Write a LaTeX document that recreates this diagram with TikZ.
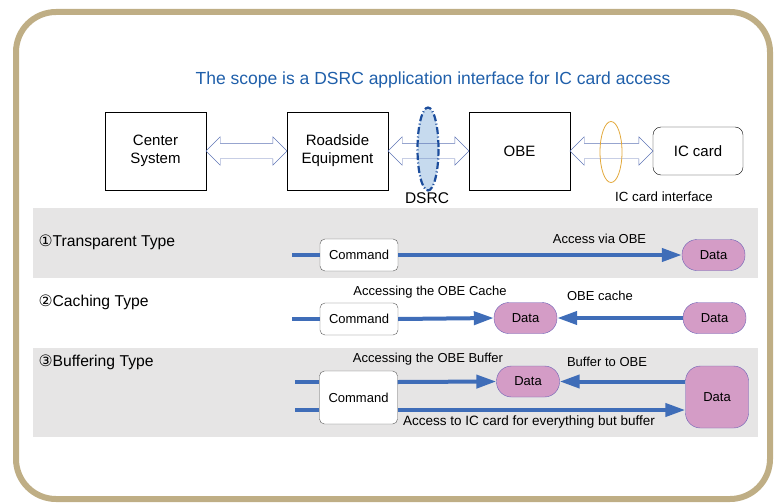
\documentclass[tikz,border=0pt]{standalone}
\usepackage{fontspec}
\setmainfont{Liberation Sans}
\newfontfamily\symfont{DejaVu Sans}
\usepackage{xcolor}
\usetikzlibrary{shapes.geometric}
\usetikzlibrary{shapes.arrows}
\usetikzlibrary{arrows.meta}
\usetikzlibrary{positioning}
\definecolor{rahmenfarbe}{HTML}{BFAE85}
\definecolor{bandgrau}{HTML}{E6E5E5}
\definecolor{titelblau}{HTML}{1F5FAA}
\definecolor{linienblau}{HTML}{3F6DB8}
\definecolor{hohlblau}{HTML}{5F75B6}
\definecolor{datenfuell}{HTML}{D49CC6}
\definecolor{datenrand}{HTML}{6B5FB5}
\definecolor{dsrcfuell}{HTML}{C6DAEE}
\definecolor{dsrcrand}{HTML}{1C4D9C}
\definecolor{karteorange}{HTML}{E2A83A}
\tikzset{
  Rahmen/.style={draw=rahmenfarbe, line width=6pt, rounded corners=40pt}, % äußerer Rahmen
  Band/.style={fill=bandgrau}, % graue Streifen
  Kasten/.style={draw, fill=white, minimum width=101pt, minimum height=78pt,
    align=center, font=\fontsize{15}{18}\selectfont}, % für Geräte
  Karte/.style={Kasten, rounded corners=8pt, minimum width=90pt, minimum height=48pt},
  Doppelpfeil/.style={double arrow, draw=hohlblau, inner xsep=0pt, inner ysep=7.5pt,
    minimum width=0pt, double arrow head extend=6.5pt}, % Hohlpfeile
  Befehl/.style={draw=black!65, fill=white, rounded corners=5pt,
    minimum width=78pt, minimum height=32pt}, % Command
  Daten/.style={draw=datenrand, fill=datenfuell, rounded corners=15pt,
    minimum width=63pt, minimum height=31pt}, % Data
  Leitung/.style={draw=linienblau, line width=4pt}, % blaue Linien
  Pfeil/.style={Leitung, -{Triangle[length=20pt, width=13pt]}} % blaue Pfeile
}

\begin{document}
\begin{tikzpicture}[x=1pt, y=-1pt,
font=\fontsize{13}{15}\selectfont
]
\useasboundingbox (0,0) rectangle (778,503);

%Rahmen und Streifen
\draw[Rahmen] (16,12) rectangle (770,499);
\fill[Band] (33,208) rectangle (758,278);
\fill[Band] (33,348) rectangle (758,437);

%Überschrift
\node[text=titelblau, font=\fontsize{17.5}{20}\selectfont] (titel) at (433,80)
  {The scope is a DSRC application interface for IC card access};

%Geräte
\node[Kasten] (zs) at (155.5,151) {Center\\System};
\node[Kasten] (rse) at (337.5,151) {Roadside\\Equipment};
\node[Kasten] (obe) at (519.5,151) {OBE};
\node[Karte] (icc) at (698,151) {IC card};

%Schnittstellen
\node[ellipse, fill=dsrcfuell, minimum width=21pt, minimum height=83pt, inner sep=0pt] (dsrc) at (428,149) {};
\path (zs.east) -- node[Doppelpfeil, minimum height=81pt] (dp1) {} (rse.west);
\path (rse.east) -- node[Doppelpfeil, minimum height=81pt] (dp2) {} (obe.west);
\path (obe.east) -- node[Doppelpfeil, minimum height=83pt] (dp3) {} (icc.west);
\draw[dsrcrand, line width=2.2pt, dash pattern=on 7pt off 2.5pt on 1pt off 2.5pt]
  (dsrc.center) ellipse [x radius=10.5, y radius=41.5];
\node[ellipse, draw=karteorange, thick, minimum width=22pt, minimum height=61pt, inner sep=0pt] (ics) at (611,152) {};
\node[font=\fontsize{15.5}{18}\selectfont] (dsrclabel) at (427,198) {DSRC};
\node[font=\fontsize{13.3}{15}\selectfont] (icslabel) at (664,197) {IC card interface};

%Zeilenbeschriftungen
\node[anchor=west, font=\fontsize{15.7}{18}\selectfont] (typ1) at (35,242) {{\symfont ①}Transparent Type};
\node[anchor=west, font=\fontsize{15.7}{18}\selectfont] (typ2) at (35,302) {{\symfont ②}Caching Type};
\node[anchor=west, font=\fontsize{15.7}{18}\selectfont] (typ3) at (35,362) {{\symfont ③}Buffering Type};

%Zeile 1
\coordinate (ein1) at (292,255);
\node[Befehl] (cmd1) at (359,255) {Command};
\node[Daten] (dat1) at (713.5,255) {Data};
\draw[Leitung] (ein1) -- (cmd1);
\draw[Pfeil] (cmd1) -- node[pos=0.71, above=6pt] (l1) {Access via OBE} (dat1);

%Zeile 2
\coordinate (ein2) at (292,319);
\node[Befehl] (cmd2) at (359,319) {Command};
\node[Daten] (dat2a) at (525.5,318) {Data};
\node[Daten] (dat2b) at (714.5,318) {Data};
\draw[Leitung] (ein2) -- (cmd2);
\draw[Pfeil] (cmd2.east) -- (dat2a.west);
\draw[Pfeil] (dat2b) -- (dat2a);
\node (l2a) at (430,292) {Accessing the OBE Cache};
\node (l2b) at (600,296) {OBE cache};

%Zeile 3
\coordinate (ein3a) at (295,382);
\coordinate (ein3b) at (295,410);
\node[Befehl, minimum height=53pt] (cmd3) at (358.5,397.5) {Command};
\node[Daten] (dat3a) at (528,381.5) {Data};
\node[Daten, minimum height=62pt] (dat3b) at (717,397) {Data};
\draw[Leitung] (ein3a) -- (cmd3.west |- ein3a);
\draw[Leitung] (ein3b) -- (cmd3.west |- ein3b);
\draw[Pfeil] (cmd3.east |- ein3a) -- (dat3a.west);
\draw[Pfeil] (dat3b.west |- dat3a) -- (dat3a.east);
\draw[Pfeil] (cmd3.east |- ein3b) -- (dat3b.west |- ein3b);
\node (l3a) at (428,359) {Accessing the OBE Buffer};
\node (l3b) at (607,362) {Buffer to OBE};
\node[font=\fontsize{13.5}{15}\selectfont] (l3c) at (529,422) {Access to IC card for everything but buffer};

\end{tikzpicture}
\end{document}
